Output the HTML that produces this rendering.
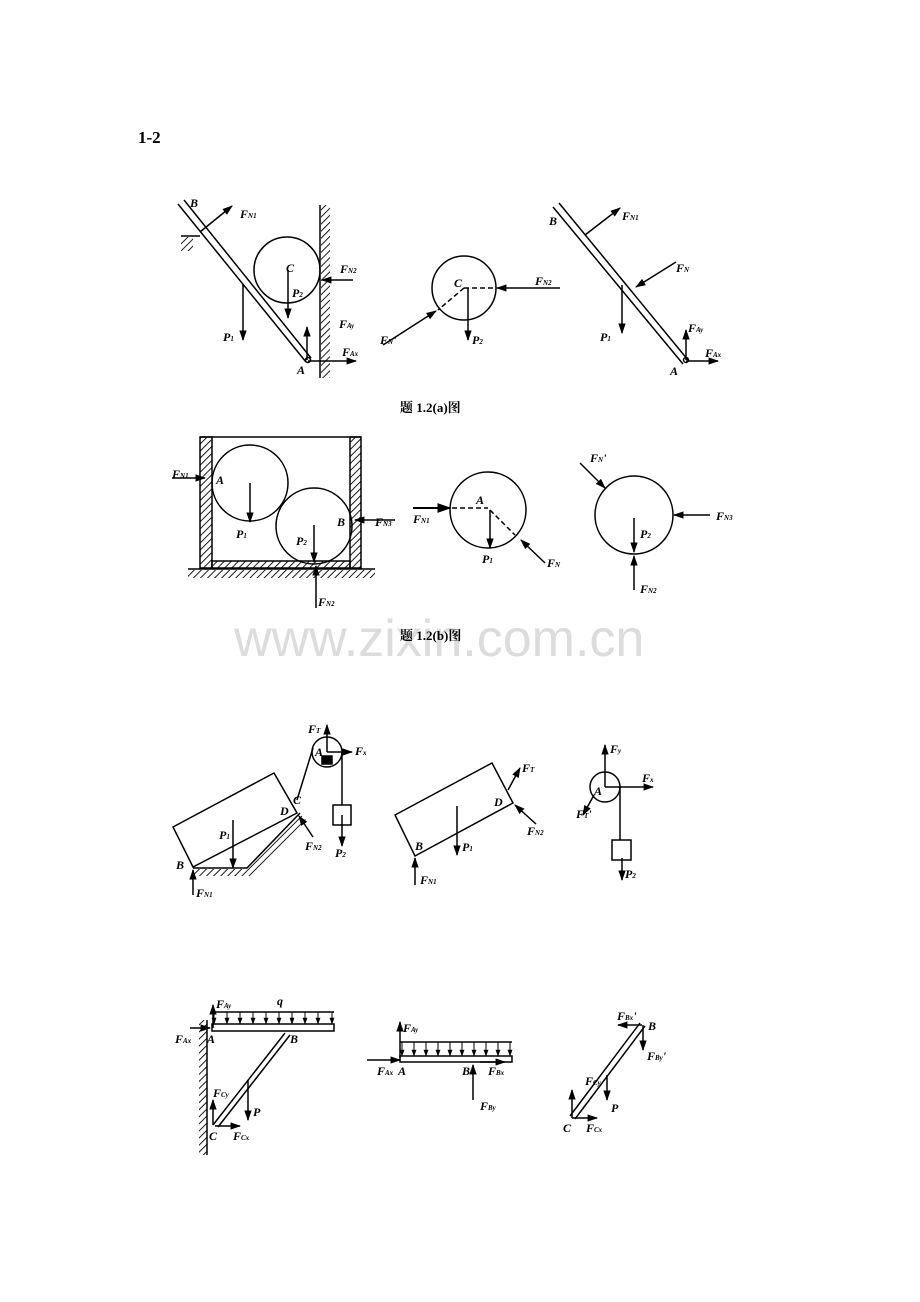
<!DOCTYPE html>
<html><head><meta charset="utf-8"><style>
body{margin:0;background:#fff}
svg{display:block}
text{font-family:"Liberation Serif","Noto Serif CJK SC",serif;font-weight:bold;font-style:italic;font-size:12px;fill:#000}
.s{font-size:7px}
.cap{font-style:normal;font-size:13px;font-family:"Liberation Serif","Noto Serif CJK SC",serif}
</style></head><body>
<svg width="920" height="1302" viewBox="0 0 920 1302" xmlns="http://www.w3.org/2000/svg">
<defs>
<marker id="a" viewBox="0 0 10 10" refX="9" refY="5" markerWidth="7" markerHeight="7" orient="auto-start-reverse"><path d="M0,1.5L10,5L0,8.5z" fill="#000"/></marker>
<pattern id="h" width="5" height="5" patternUnits="userSpaceOnUse" patternTransform="rotate(45)"><line x1="0" y1="0" x2="0" y2="5" stroke="#000" stroke-width="1.8"/></pattern>
</defs>
<g stroke="#000" stroke-width="1.5" fill="none">
<text x="138" y="143" style="font-style:normal;font-size:17px;font-family:'Liberation Serif',serif" stroke="none">1-2</text>

<!-- Row a left -->
<line x1="178" y1="204" x2="306" y2="362"/><line x1="184" y1="200" x2="311" y2="358"/>
<line x1="181" y1="236" x2="200" y2="236"/><rect x="181" y="237" width="12" height="14" fill="url(#h)" stroke="none"/>
<line x1="320" y1="205" x2="320" y2="378"/><rect x="321" y="205" width="9" height="173" fill="url(#h)" stroke="none"/>
<circle cx="287" cy="270" r="33"/>
<line x1="200" y1="232" x2="232" y2="206" marker-end="url(#a)"/>
<line x1="243" y1="284" x2="243" y2="340" marker-end="url(#a)"/>
<line x1="288" y1="270" x2="288" y2="318" marker-end="url(#a)"/>
<line x1="353" y1="280" x2="322" y2="280" marker-end="url(#a)"/>
<line x1="307" y1="360" x2="307" y2="327" marker-end="url(#a)"/>
<line x1="308" y1="361" x2="356" y2="361" marker-end="url(#a)"/>
<circle cx="308" cy="360" r="2.5"/>
<!-- Row a middle -->
<circle cx="464" cy="288" r="32"/>
<line x1="464" y1="288" x2="496" y2="288" stroke-dasharray="5,3"/>
<line x1="464" y1="288" x2="438" y2="310" stroke-dasharray="5,3"/>
<line x1="560" y1="288" x2="497" y2="288" marker-end="url(#a)"/>
<line x1="383" y1="345" x2="436" y2="311" marker-end="url(#a)"/>
<line x1="468" y1="288" x2="468" y2="340" marker-end="url(#a)"/>
<!-- Row a right -->
<line x1="553" y1="207" x2="683" y2="364"/><line x1="559" y1="203" x2="688" y2="360"/>
<line x1="585" y1="235" x2="620" y2="208" marker-end="url(#a)"/>
<line x1="676" y1="262" x2="636" y2="287" marker-end="url(#a)"/>
<line x1="622" y1="285" x2="622" y2="333" marker-end="url(#a)"/>
<line x1="686" y1="360" x2="686" y2="330" marker-end="url(#a)"/>
<line x1="686" y1="361" x2="718" y2="361" marker-end="url(#a)"/>
<circle cx="686" cy="360" r="2.5"/>

<!-- Row b left -->
<rect x="200" y="437" width="12" height="131" fill="url(#h)"/>
<rect x="350" y="437" width="11" height="131" fill="url(#h)"/>
<line x1="200" y1="437" x2="361" y2="437"/>
<rect x="212" y="561" width="138" height="7" fill="url(#h)"/>
<line x1="188" y1="569" x2="375" y2="569"/><rect x="188" y="570" width="187" height="8" fill="url(#h)" stroke="none"/>
<circle cx="250" cy="483" r="38"/>
<circle cx="314" cy="526" r="38"/>
<line x1="172" y1="478" x2="205" y2="478" marker-end="url(#a)"/>
<line x1="250" y1="483" x2="250" y2="522" marker-end="url(#a)"/>
<line x1="314" y1="525" x2="314" y2="562" marker-end="url(#a)"/>
<line x1="395" y1="520" x2="355" y2="520" marker-end="url(#a)"/>
<line x1="316" y1="608" x2="316" y2="566" marker-end="url(#a)"/>
<!-- Row b middle -->
<circle cx="488" cy="510" r="38"/>
<line x1="452" y1="508" x2="488" y2="508" stroke-dasharray="5,3"/>
<line x1="490" y1="510" x2="515" y2="535" stroke-dasharray="5,3"/>
<line x1="413" y1="508" x2="450" y2="508" marker-end="url(#a)" stroke-width="2"/>
<line x1="490" y1="510" x2="490" y2="548" marker-end="url(#a)"/>
<line x1="545" y1="563" x2="521" y2="540" marker-end="url(#a)"/>
<!-- Row b right -->
<circle cx="634" cy="515" r="39"/>
<line x1="580" y1="463" x2="605" y2="488" marker-end="url(#a)"/>
<line x1="634" y1="518" x2="634" y2="552" marker-end="url(#a)"/>
<line x1="710" y1="515" x2="674" y2="515" marker-end="url(#a)"/>
<line x1="634" y1="590" x2="634" y2="556" marker-end="url(#a)"/>

<!-- Row 3 left -->
<polygon points="173,827 274,773 297,813 193,867"/>
<polyline points="193,868 247,868 300,813"/>
<polygon points="193,869 247,869 300,814 307,821 251,876 193,876" fill="url(#h)" stroke="none"/>
<circle cx="327" cy="752" r="15"/>
<rect x="322" y="756" width="10" height="8" fill="#000"/>
<line x1="297" y1="800" x2="313" y2="748"/>
<line x1="342" y1="752" x2="342" y2="805"/>
<rect x="333" y="805" width="18" height="20"/>
<line x1="342" y1="815" x2="342" y2="846" marker-end="url(#a)"/>
<line x1="327" y1="752" x2="327" y2="725" marker-end="url(#a)"/>
<line x1="327" y1="752" x2="352" y2="752" marker-end="url(#a)"/>
<line x1="233" y1="820" x2="233" y2="868" marker-end="url(#a)"/>
<line x1="193" y1="895" x2="193" y2="870" marker-end="url(#a)"/>
<line x1="313" y1="837" x2="299" y2="816" marker-end="url(#a)"/>
<!-- Row 3 middle -->
<polygon points="395,815 492,763 513,803 415,856"/>
<line x1="508" y1="790" x2="520" y2="768" marker-end="url(#a)"/>
<line x1="536" y1="824" x2="515" y2="805" marker-end="url(#a)"/>
<line x1="457" y1="806" x2="457" y2="855" marker-end="url(#a)"/>
<line x1="415" y1="885" x2="415" y2="858" marker-end="url(#a)"/>
<!-- Row 3 right -->
<circle cx="605" cy="787" r="15"/>
<line x1="605" y1="787" x2="605" y2="745" marker-end="url(#a)"/>
<line x1="605" y1="787" x2="653" y2="787" marker-end="url(#a)"/>
<line x1="594" y1="795" x2="583" y2="815" marker-end="url(#a)"/>
<line x1="620" y1="787" x2="620" y2="840"/>
<rect x="612" y="840" width="19" height="20"/>
<line x1="622" y1="858" x2="622" y2="880" marker-end="url(#a)"/>

<!-- Row 4 left -->
<line x1="207" y1="1020" x2="207" y2="1155"/><rect x="199" y="1020" width="8" height="135" fill="url(#h)" stroke="none"/>
<rect x="212" y="1024" width="122" height="7"/>
<line x1="212" y1="1012" x2="334" y2="1012"/>
<g marker-end="url(#a)" stroke-width="1">
<line x1="214" y1="1012" x2="214" y2="1024"/><line x1="227" y1="1012" x2="227" y2="1024"/><line x1="240" y1="1012" x2="240" y2="1024"/><line x1="253" y1="1012" x2="253" y2="1024"/><line x1="266" y1="1012" x2="266" y2="1024"/><line x1="279" y1="1012" x2="279" y2="1024"/><line x1="292" y1="1012" x2="292" y2="1024"/><line x1="305" y1="1012" x2="305" y2="1024"/><line x1="318" y1="1012" x2="318" y2="1024"/><line x1="332" y1="1012" x2="332" y2="1024"/>
</g>
<line x1="285" y1="1033" x2="213" y2="1125"/><line x1="290" y1="1035" x2="218" y2="1127"/>
<line x1="248" y1="1080" x2="248" y2="1120" marker-end="url(#a)"/>
<line x1="213" y1="1125" x2="213" y2="1100" marker-end="url(#a)"/>
<line x1="215" y1="1126" x2="240" y2="1126" marker-end="url(#a)"/>
<line x1="190" y1="1028" x2="210" y2="1028" marker-end="url(#a)"/>
<line x1="213" y1="1028" x2="213" y2="1005" marker-end="url(#a)"/>
<!-- Row 4 middle -->
<rect x="400" y="1056" width="112" height="6"/>
<line x1="400" y1="1042" x2="512" y2="1042"/>
<g marker-end="url(#a)" stroke-width="1">
<line x1="402" y1="1042" x2="402" y2="1056"/><line x1="414" y1="1042" x2="414" y2="1056"/><line x1="426" y1="1042" x2="426" y2="1056"/><line x1="438" y1="1042" x2="438" y2="1056"/><line x1="450" y1="1042" x2="450" y2="1056"/><line x1="462" y1="1042" x2="462" y2="1056"/><line x1="474" y1="1042" x2="474" y2="1056"/><line x1="486" y1="1042" x2="486" y2="1056"/><line x1="498" y1="1042" x2="498" y2="1056"/><line x1="510" y1="1042" x2="510" y2="1056"/>
</g>
<line x1="400" y1="1058" x2="400" y2="1022" marker-end="url(#a)"/>
<line x1="367" y1="1060" x2="400" y2="1060" marker-end="url(#a)"/>
<line x1="473" y1="1100" x2="473" y2="1065" marker-end="url(#a)"/>
<line x1="480" y1="1062" x2="505" y2="1062" marker-end="url(#a)"/>
<!-- Row 4 right -->
<line x1="570" y1="1116" x2="640" y2="1023"/><line x1="575" y1="1119" x2="645" y2="1026"/>
<line x1="642" y1="1025" x2="618" y2="1025" marker-end="url(#a)"/>
<line x1="643" y1="1025" x2="643" y2="1050" marker-end="url(#a)"/>
<line x1="607" y1="1075" x2="607" y2="1100" marker-end="url(#a)"/>
<line x1="572" y1="1118" x2="572" y2="1090" marker-end="url(#a)"/>
<line x1="572" y1="1118" x2="597" y2="1118" marker-end="url(#a)"/>
</g>

<g>
<text x="190" y="207">B</text><text x="240" y="218">F<tspan class="s">N1</tspan></text>
<text x="286" y="272">C</text><text x="292" y="297">P<tspan class="s">2</tspan></text>
<text x="340" y="273">F<tspan class="s">N2</tspan></text><text x="339" y="328">F<tspan class="s">Ay</tspan></text>
<text x="223" y="341">P<tspan class="s">1</tspan></text><text x="342" y="356">F<tspan class="s">Ax</tspan></text>
<text x="297" y="374">A</text>
<text x="454" y="287">C</text><text x="535" y="285">F<tspan class="s">N2</tspan></text>
<text x="380" y="344">F<tspan class="s">N</tspan>'</text><text x="472" y="344">P<tspan class="s">2</tspan></text>
<text x="549" y="225">B</text><text x="622" y="220">F<tspan class="s">N1</tspan></text>
<text x="676" y="272">F<tspan class="s">N</tspan></text><text x="600" y="341">P<tspan class="s">1</tspan></text>
<text x="688" y="332">F<tspan class="s">Ay</tspan></text><text x="705" y="357">F<tspan class="s">Ax</tspan></text>
<text x="670" y="375">A</text>
<text class="cap" x="400" y="412">题 1.2(a)图</text>

<text x="172" y="478">F<tspan class="s">N1</tspan></text><text x="216" y="484">A</text>
<text x="236" y="538">P<tspan class="s">1</tspan></text><text x="296" y="545">P<tspan class="s">2</tspan></text>
<text x="337" y="526">B</text><text x="375" y="526">F<tspan class="s">N3</tspan></text>
<text x="318" y="606">F<tspan class="s">N2</tspan></text>
<text x="476" y="504">A</text><text x="413" y="523">F<tspan class="s">N1</tspan></text>
<text x="482" y="563">P<tspan class="s">1</tspan></text><text x="547" y="567">F<tspan class="s">N</tspan></text>
<text x="590" y="462">F<tspan class="s">N</tspan>'</text><text x="640" y="538">P<tspan class="s">2</tspan></text>
<text x="716" y="520">F<tspan class="s">N3</tspan></text><text x="640" y="593">F<tspan class="s">N2</tspan></text>
</g>
<text x="234" y="656" style="font-style:normal;font-weight:normal;font-family:'Liberation Sans',sans-serif;font-size:52px;fill:#dcdcdc">www.zixin.com.cn</text>
<text class="cap" x="400" y="640">题 1.2(b)图</text>

<g>
<text x="308" y="733">F<tspan class="s">T</tspan></text><text x="315" y="756">A</text><text x="355" y="755">F<tspan class="s">x</tspan></text>
<text x="293" y="804">C</text><text x="280" y="815">D</text>
<text x="219" y="839">P<tspan class="s">1</tspan></text><text x="305" y="850">F<tspan class="s">N2</tspan></text>
<text x="335" y="857">P<tspan class="s">2</tspan></text><text x="176" y="869">B</text><text x="196" y="897">F<tspan class="s">N1</tspan></text>
<text x="522" y="772">F<tspan class="s">T</tspan></text><text x="494" y="806">D</text>
<text x="527" y="835">F<tspan class="s">N2</tspan></text><text x="462" y="851">P<tspan class="s">1</tspan></text>
<text x="415" y="850">B</text><text x="420" y="884">F<tspan class="s">N1</tspan></text>
<text x="610" y="753">F<tspan class="s">y</tspan></text><text x="642" y="782">F<tspan class="s">x</tspan></text>
<text x="594" y="795">A</text><text x="576" y="818">F<tspan class="s">T</tspan>'</text>
<text x="625" y="878">P<tspan class="s">2</tspan></text>

<text x="216" y="1008">F<tspan class="s">Ay</tspan></text><text x="277" y="1005">q</text>
<text x="175" y="1043">F<tspan class="s">Ax</tspan></text><text x="207" y="1043">A</text><text x="290" y="1043">B</text>
<text x="213" y="1097">F<tspan class="s">Cy</tspan></text><text x="253" y="1116">P</text>
<text x="209" y="1140">C</text><text x="233" y="1140">F<tspan class="s">Cx</tspan></text>
<text x="403" y="1032">F<tspan class="s">Ay</tspan></text><text x="377" y="1075">F<tspan class="s">Ax</tspan></text>
<text x="398" y="1075">A</text><text x="462" y="1075">B</text><text x="488" y="1075">F<tspan class="s">Bx</tspan></text>
<text x="480" y="1110">F<tspan class="s">By</tspan></text>
<text x="617" y="1020">F<tspan class="s">Bx</tspan>'</text><text x="648" y="1030">B</text>
<text x="647" y="1060">F<tspan class="s">By</tspan>'</text><text x="585" y="1085">F<tspan class="s">Cy</tspan></text>
<text x="611" y="1112">P</text><text x="563" y="1132">C</text><text x="586" y="1132">F<tspan class="s">Cx</tspan></text>
</g>
</svg>
</body></html>
